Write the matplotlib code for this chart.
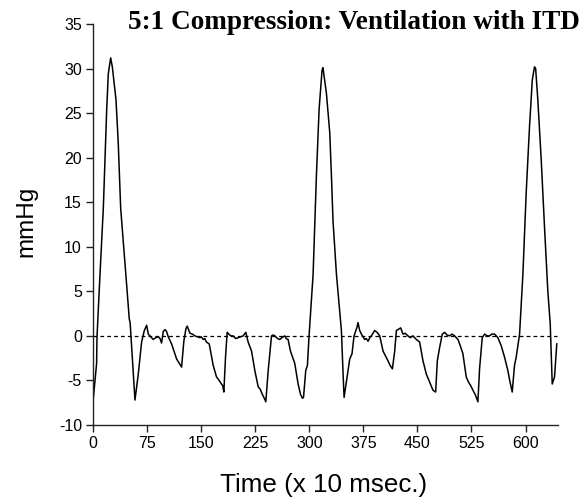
import matplotlib
matplotlib.use("Agg")
import matplotlib.pyplot as plt

plt.rcParams['axes.unicode_minus'] = False

time = [0, 0, 2.8, 5, 5.5, 9.7, 14.3, 16.6, 19, 21.2, 24.5, 26.8, 31.9, 35, 38.4, 42, 46.7, 50.3, 51.5, 54.5,
        58.2, 62.8, 67.4, 71, 74.4, 76.7, 80, 83.6, 87, 90.5, 93, 95.1, 97.5, 100, 102, 104.4, 109, 116, 122.9,
        126, 128.9, 130.7, 134.4, 138, 141.3, 145, 148.3, 150, 152.9, 155, 157.5, 161.2, 166.7, 171.3, 175,
        178.2, 180, 181.5, 183.8, 186.1, 188.4, 191, 194.4, 198, 201.3, 205, 208.3, 212, 215.2, 219.9, 224.5,
        229.1, 232, 235.1, 237, 239.7, 243, 247.6, 250, 252.2, 256, 259.1, 262, 266, 268, 270.6, 273.9,
        279.9, 284.5, 288, 290.6, 292, 295.1, 297.4, 299.7, 305.3, 309.9, 313.6, 317.7, 319, 323.8, 328.4,
        330.7, 333, 337.7, 342.2, 344.6, 346.9, 348.3, 351.5, 356.1, 359.3, 362.1, 366.3, 367.6, 369.9,
        373, 376.9, 379, 381.5, 384, 386.1, 390.7, 394, 397.7, 402.3, 409.2, 412, 415.3, 418.5, 420.8,
        426.8, 430, 433, 436.9, 440, 443.8, 448.5, 453.1, 457.7, 462.4, 467, 469, 471.6, 475.3, 477.6,
        480.8, 484.5, 487.7, 491, 494.7, 498, 501.6, 506.2, 509, 513.1, 517.7, 521, 524.7, 527, 530.3,
        533.9, 536.2, 539.9, 543.2, 547, 550.1, 553, 557, 561.6, 566.2, 570.9, 575.5, 578, 581.5, 584.7,
        587, 591.7, 596.3, 600.9, 605.5, 609.3, 612.4, 614, 617, 621.7, 626.3, 630.9, 634.2, 637, 640.2,
        643.3]
mmhg = [-2.8, -7.4, -5.0, -3.1, -0.2, 6.9, 14.3, 19.8, 25.4, 29.4, 31.2, 30.2, 26.5, 21.7, 14.3, 10.6, 5.7,
        1.9, 1.5, -2.4, -7.2, -4.3, -0.7, 0.55, 1.2, 0.2, -0.1, -0.4, -0.2, -0.1, -0.3, -0.8, 0.5, 0.7, 0.5,
        -0.1, -0.9, -2.6, -3.5, -0.6, 0.8, 1.1, 0.3, 0.2, 0.0, -0.1, -0.2, -0.1, -0.4, -0.3, -0.7, -0.9,
        -3.3, -4.6, -5.0, -5.4, -5.6, -6.3, -2.4, 0.4, 0.2, 0.0, 0.0, -0.3, -0.2, -0.1, 0.0, 0.4, -0.7, -1.7,
        -3.9, -5.7, -6.0, -6.6, -6.9, -7.4, -3.9, 0.0, 0.1, 0.0, -0.3, -0.4, -0.2, 0.0, -0.3, -0.4, -1.7,
        -3.1, -5.4, -6.6, -7.0, -6.9, -3.9, -3.3, 0.0, 6.9, 18.0, 25.4, 29.8, 30.1, 27.2, 22.8, 18.0,
        12.8, 6.9, 2.8, 0.55, -4.3, -6.9, -5.1, -2.6, -2.0, 0.0, 1.0, 1.5, 0.6, 0.1, -0.4, -0.3, -0.6,
        -0.2, 0.0, 0.6, 0.4, 0.0, -1.7, -2.8, -3.3, -3.7, -1.7, 0.6, 0.9, 0.2, 0.3, 0.0, -0.2, 0.0, -0.4,
        -0.7, -2.8, -4.3, -5.2, -5.6, -6.1, -6.3, -2.8, -1.3, 0.2, 0.4, 0.1, 0.0, 0.2, 0.0, -0.4, -1.0,
        -2.0, -4.6, -5.2, -5.7, -6.1, -6.6, -7.4, -3.7, -0.2, 0.2, 0.0, 0.0, 0.2, 0.2, -0.2, -1.1, -2.4,
        -3.9, -5.0, -6.3, -3.3, -2.4, 0.2, 6.9, 16.1, 23.5, 28.7, 30.2, 30.0, 26.5, 19.8, 12.2, 5.0, 1.4,
        -5.4, -4.6, -0.9]

xticks = [0, 75, 150, 225, 300, 375, 450, 525, 600]
yticks = [-10, -5, 0, 5, 10, 15, 20, 25, 30, 35]

W, H = 584, 500
fig = plt.figure(figsize=(W / 100, H / 100), dpi=100)
ax = fig.add_axes([93 / W, 1 - 425 / H, (558 - 93) / W, (425 - 24) / H])
ax.plot(time, mmhg, color='black', lw=1.1)
ax.axhline(0, xmin=0, xmax=643 / 645, color='black', lw=0.9, ls=(0, (3, 2.5)))
ax.set_xlim(0, 645)
ax.set_ylim(-10, 35)
ax.set_xticks(xticks)
ax.set_yticks(yticks)
for s in ['top', 'right']:
    ax.spines[s].set_visible(False)
for s in ['left', 'bottom']:
    ax.spines[s].set_linewidth(1.0)
    ax.spines[s].set_color('#222222')
ax.tick_params(direction='out', length=5, width=1.0, labelsize=11.5, color='#222222', pad=3)
for lab in ax.get_xticklabels() + ax.get_yticklabels():
    lab.set_family('Liberation Sans')

fig.text(324 / W, 1 - 492 / H, 'Time (x 10 msec.)', fontsize=18.7, family='Liberation Sans',
         ha='center', va='baseline')
fig.text(26 / W, 1 - 221 / H, 'mmHg', fontsize=17.5, family='Liberation Sans',
         rotation=90, ha='center', va='center')
fig.text(128 / W, 1 - 29 / H, '5:1 Compression: Ventilation with ITD', fontsize=19.6,
         fontweight='bold', family='Liberation Serif', ha='left', va='baseline')
fig.savefig('out.png', dpi=100)
